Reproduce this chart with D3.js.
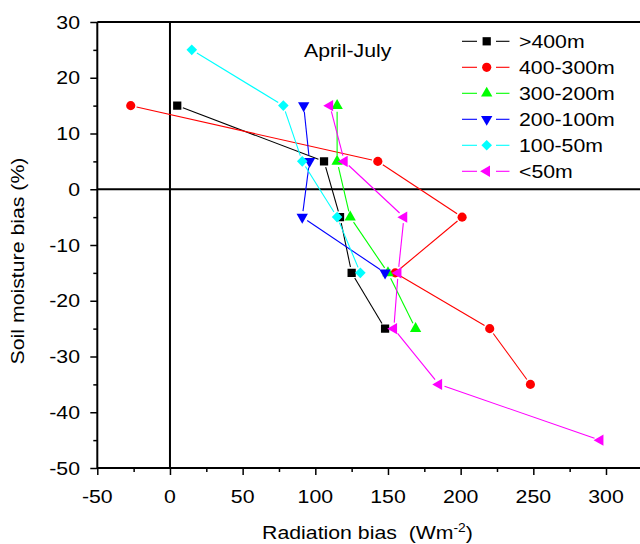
<!DOCTYPE html>
<html>
<head>
<meta charset="utf-8">
<script src="https://cdn.jsdelivr.net/npm/d3@7/dist/d3.min.js"></script>
<style>
  html, body { margin: 0; padding: 0; background: #fff; }
  svg { display: block; }
  text { font-family: "Liberation Sans", Arial, Helvetica, sans-serif; fill: #000; }
</style>
</head>
<body>
<svg id="chart" width="640" height="544"></svg>
<script>
// ---- Data ----
const seriesNames = [">400m", "400-300m", "300-200m", "200-100m", "100-50m", "<50m"];
const seriesColors = ["#000000", "#ff0000", "#00ff00", "#0000ff", "#00ffff", "#ff00ff"];
const seriesShapes = ["square", "circle", "triangleUp", "triangleDown", "diamond", "triangleLeft"];

const radiationGt400   = [5, 106, 117, 125, 148];
const moistureGt400    = [15, 5, -5, -15, -25];
const radiation400_300 = [-27, 143, 201, 155, 220, 248];
const moisture400_300  = [15, 5, -5, -15, -25, -35];
const radiation300_200 = [115, 115, 124, 150, 169];
const moisture300_200  = [15, 5, -5, -15, -25];
const radiation200_100 = [92, 96, 91, 148];
const moisture200_100  = [15, 5, -5, -15];
const radiation100_50  = [15, 78, 91, 115, 131];
const moisture100_50   = [25, 15, 5, -5, -15];
const radiationLt50    = [110, 120, 161, 157, 154, 185, 296];
const moistureLt50     = [15, 5, -5, -15, -25, -35, -45];

const xTickValues = [-50, 0, 50, 100, 150, 200, 250, 300];
const xMinorTicks = [-25, 25, 75, 125, 175, 225, 275];
const yTickValues = [-50, -40, -30, -20, -10, 0, 10, 20, 30];
const yMinorTicks = [-45, -35, -25, -15, -5, 5, 15, 25];

const titleText = "April-July";
const xTitle = "Radiation bias";
const yTitle = "Soil moisture bias (%)";

const seriesX = [radiationGt400, radiation400_300, radiation300_200, radiation200_100, radiation100_50, radiationLt50];
const seriesY = [moistureGt400, moisture400_300, moisture300_200, moisture200_100, moisture100_50, moistureLt50];

// ---- Layout ----
const svg = d3.select("#chart");
const SX = 1.15; // horizontal glyph stretch
const FS = 18.5;

const x = d3.scaleLinear().domain([-50, 325]).range([97.3, 97.3 + 375 * 1.4534]);
const y = d3.scaleLinear().domain([-50, 30]).range([468, 22]);

function addText(g, tx, ty, str, anchor, rot) {
  const t = g.append("g").attr("transform", `translate(${tx},${ty})` + (rot ? ` rotate(${rot})` : ""))
    .append("text")
    .attr("transform", `scale(${SX},1)`)
    .attr("text-anchor", anchor)
    .attr("font-size", FS)
    .text(str);
  return t;
}

// minor ticks
svg.append("g").attr("transform", `translate(0,${y(-50)})`)
  .call(d3.axisBottom(x).tickValues(xMinorTicks).tickSize(4).tickFormat(""))
  .call(g => g.select(".domain").remove())
  .call(g => g.selectAll("line").attr("stroke-width", 1.5));
svg.append("g").attr("transform", `translate(${x(-50)},0)`)
  .call(d3.axisLeft(y).tickValues(yMinorTicks).tickSize(4).tickFormat(""))
  .call(g => g.select(".domain").remove())
  .call(g => g.selectAll("line").attr("stroke-width", 1.5));

// major ticks
const xAx = svg.append("g").attr("transform", `translate(0,${y(-50)})`)
  .call(d3.axisBottom(x).tickValues(xTickValues).tickSize(7).tickFormat(""));
xAx.select(".domain").remove();
xAx.selectAll("line").attr("stroke-width", 1.5);
const yAx = svg.append("g").attr("transform", `translate(${x(-50)},0)`)
  .call(d3.axisLeft(y).tickValues(yTickValues).tickSize(7).tickFormat(""));
yAx.select(".domain").remove();
yAx.selectAll("line").attr("stroke-width", 1.5);

// tick labels
const labels = svg.append("g");
xTickValues.forEach(v => addText(labels, x(v), 502.5, String(v), "middle"));
yTickValues.forEach(v => addText(labels, 80, y(v) + 6.6, String(v), "end"));

// frame and zero lines
const frame = svg.append("g").attr("stroke", "#000").attr("stroke-width", 2).attr("fill", "none");
frame.append("line").attr("x1", x(-50)).attr("x2", 640).attr("y1", y(30)).attr("y2", y(30));
frame.append("line").attr("x1", x(-50)).attr("x2", 640).attr("y1", y(-50)).attr("y2", y(-50));
frame.append("line").attr("x1", x(-50)).attr("x2", x(-50)).attr("y1", y(30)).attr("y2", y(-50));
frame.append("line").attr("x1", x(-50)).attr("x2", 640).attr("y1", y(0)).attr("y2", y(0));
frame.append("line").attr("x1", x(0)).attr("x2", x(0)).attr("y1", y(30)).attr("y2", y(-50));

// marker factory
function symbolPath(shape) {
  switch (shape) {
    case "square": return { d: d3.symbol(d3.symbolSquare, 68)(), rot: 0 };
    case "circle": return { d: d3.symbol(d3.symbolCircle, 66)(), rot: 0 };
    case "triangleUp": return { d: d3.symbol(d3.symbolTriangle, 56)(), rot: 0 };
    case "triangleDown": return { d: d3.symbol(d3.symbolTriangle, 56)(), rot: 180 };
    case "triangleLeft": return { d: d3.symbol(d3.symbolTriangle, 56)(), rot: -90 };
    case "diamond": return { d: d3.symbol(d3.symbolSquare, 56)(), rot: 45 };
  }
}
function drawMarker(g, px, py, shape, color) {
  const s = symbolPath(shape);
  g.append("path").attr("d", s.d)
    .attr("transform", `translate(${px},${py}) rotate(${s.rot})`)
    .attr("fill", color).attr("stroke", "none");
}

// series
const GAP = 6;
const plot = svg.append("g");
seriesNames.forEach((name, i) => {
  const xs = seriesX[i], ys = seriesY[i];
  const pts = xs.map((v, k) => [x(v), y(ys[k])]);
  const g = plot.append("g");
  for (let k = 0; k < pts.length - 1; k++) {
    const [x1, y1] = pts[k], [x2, y2] = pts[k + 1];
    const dx = x2 - x1, dy = y2 - y1, L = Math.hypot(dx, dy);
    if (L <= 2 * GAP) continue;
    const ux = dx / L, uy = dy / L;
    g.append("line")
      .attr("x1", x1 + ux * GAP).attr("y1", y1 + uy * GAP)
      .attr("x2", x2 - ux * GAP).attr("y2", y2 - uy * GAP)
      .attr("stroke", seriesColors[i]).attr("stroke-width", 1.1);
  }
  pts.forEach(p => drawMarker(g, p[0], p[1], seriesShapes[i], seriesColors[i]));
});

// title
addText(svg, 304, 57, titleText, "start");

// legend
const leg = svg.append("g");
seriesNames.forEach((name, i) => {
  const cy = 41.3 + i * 26;
  leg.append("line").attr("x1", 462).attr("x2", 477).attr("y1", cy).attr("y2", cy)
    .attr("stroke", seriesColors[i]).attr("stroke-width", 1.1);
  leg.append("line").attr("x1", 496).attr("x2", 509.5).attr("y1", cy).attr("y2", cy)
    .attr("stroke", seriesColors[i]).attr("stroke-width", 1.1);
  drawMarker(leg, 486.7, cy, seriesShapes[i], seriesColors[i]);
  addText(leg, 519, cy + 6.6, name, "start");
});

// axis titles
const xt = addText(svg, 367.5, 539, "", "middle");
xt.append("tspan").text(xTitle + "\u00a0\u00a0(Wm");
xt.append("tspan").attr("font-size", 12).attr("dy", -7).text("-2");
xt.append("tspan").attr("dy", 7).text(")");
addText(svg, 23.5, 261, yTitle, "middle", -90);
</script>
</body>
</html>
